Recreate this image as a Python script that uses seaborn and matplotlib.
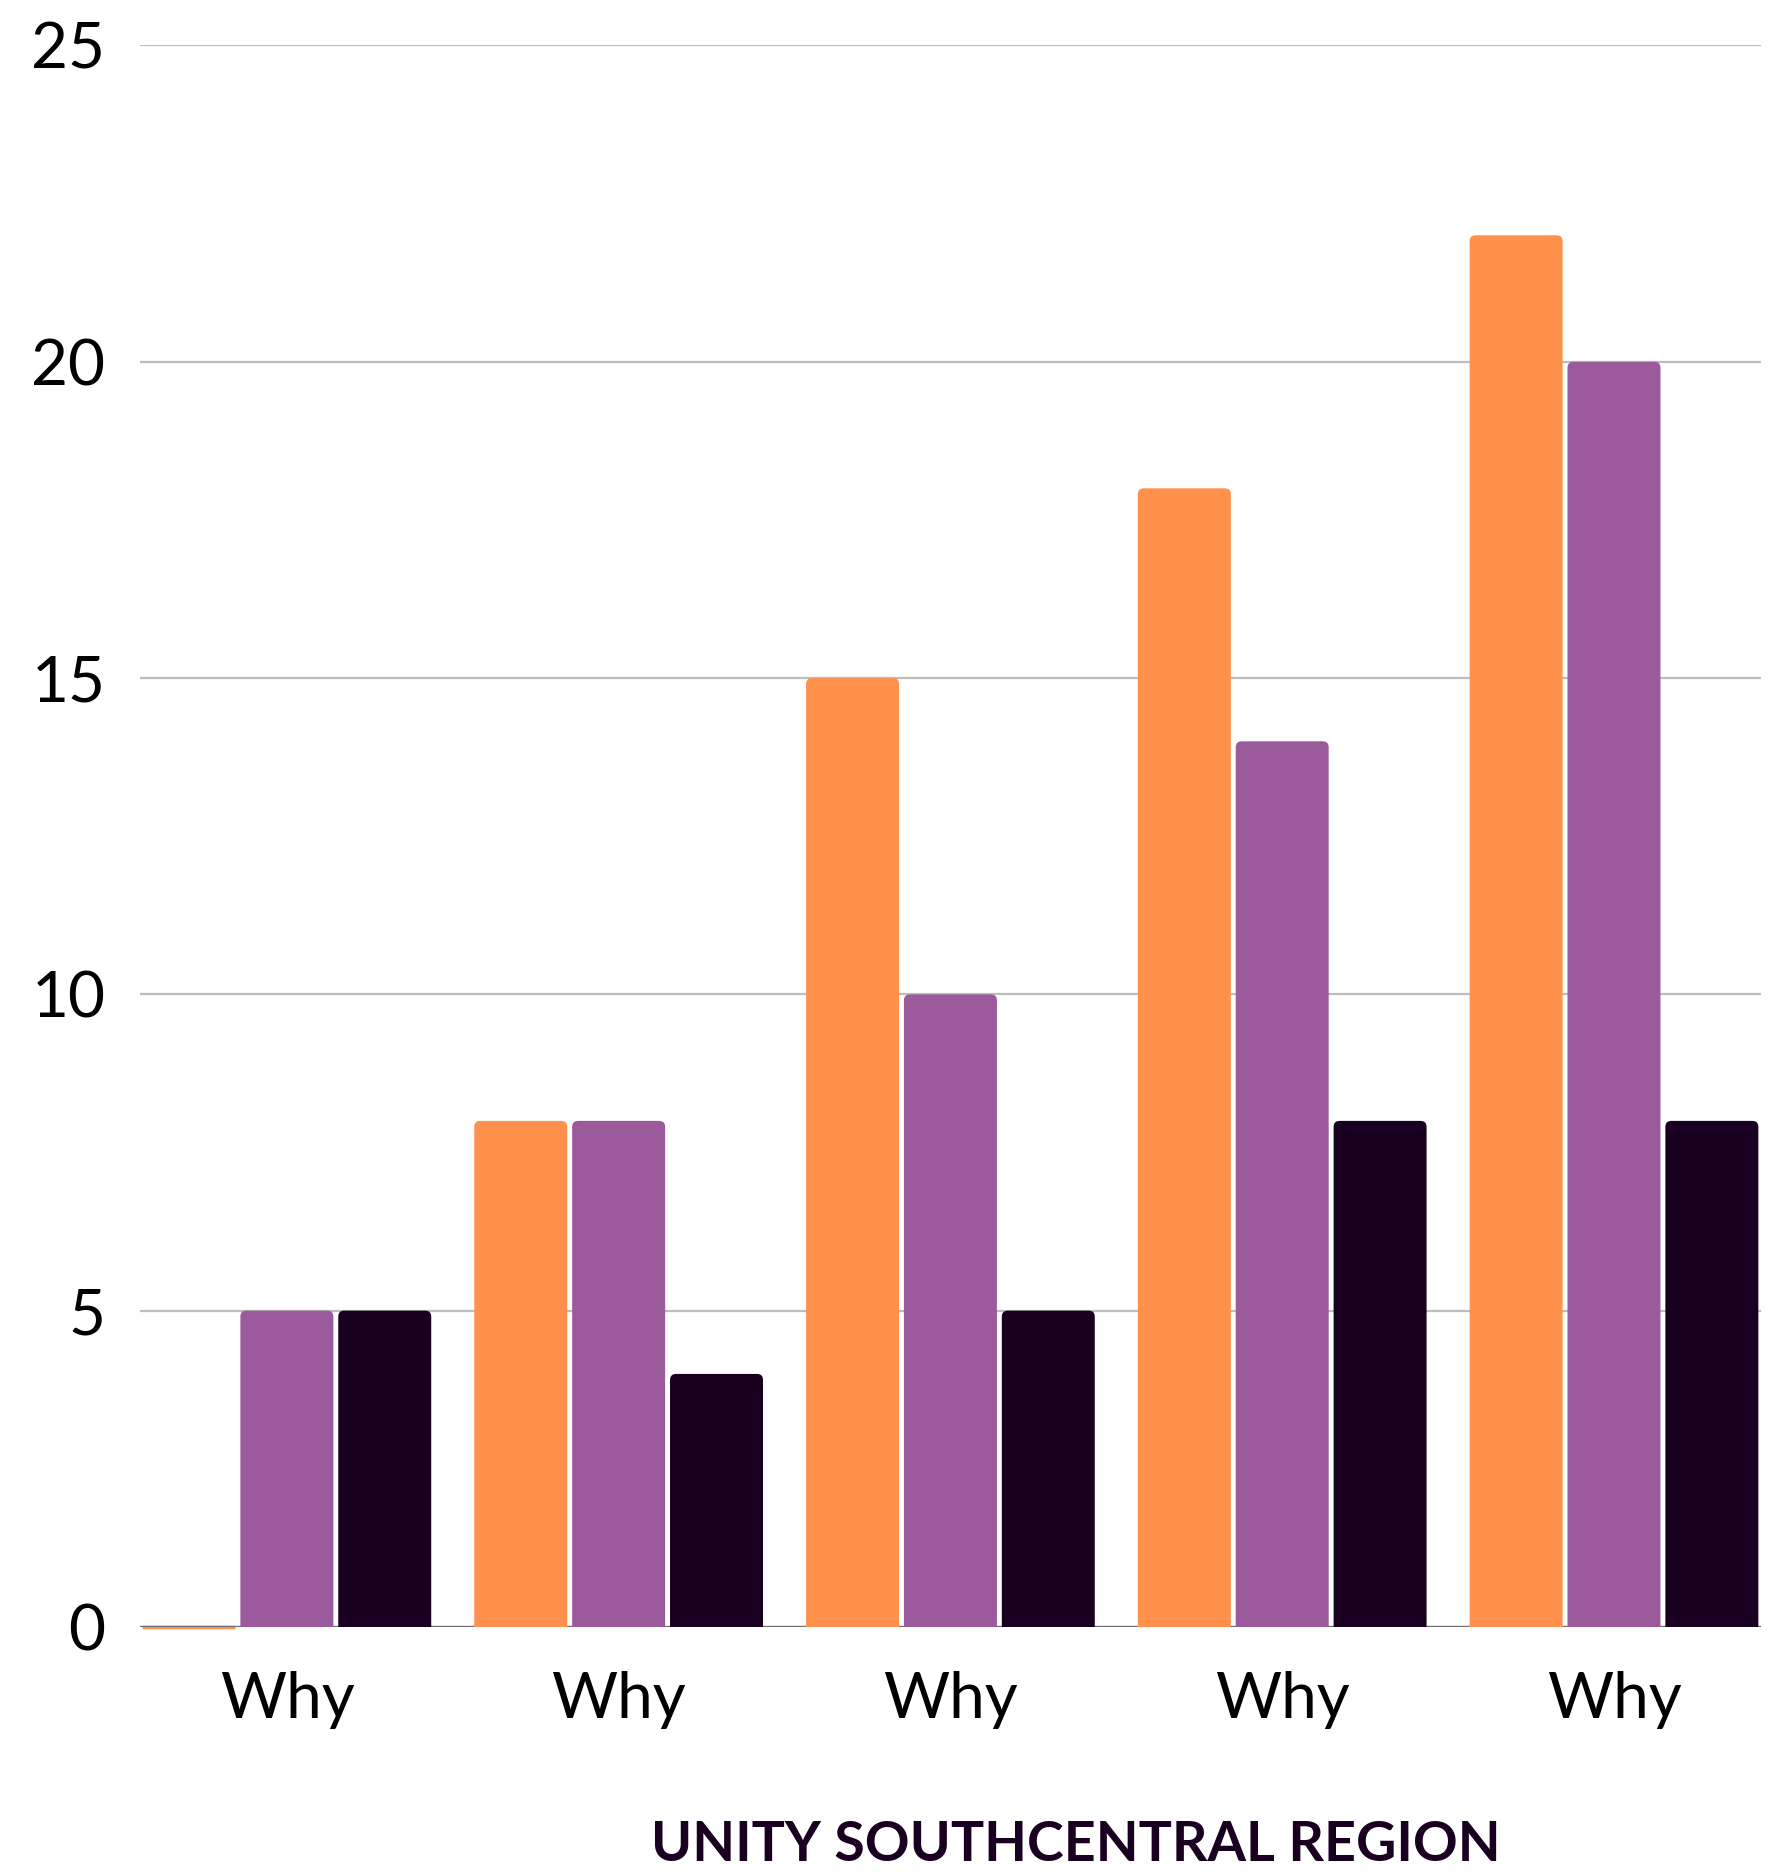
import pandas as pd
import matplotlib
matplotlib.use('Agg')
import matplotlib.pyplot as plt
import seaborn as sns
from matplotlib.patches import FancyBboxPatch

# data
groups = [0, 1, 2, 3, 4]
group_labels = ['Why', 'Why', 'Why', 'Why', 'Why']
series_names = ['A', 'B', 'C']
series_a = [0, 8, 15, 18, 22]
series_b = [5, 8, 10, 14, 20]
series_c = [5, 4, 5, 8, 8]
y_ticks = [0, 5, 10, 15, 20, 25]
title = 'UNITY SOUTHCENTRAL REGION'

palette = ['#FF914D', '#9B5A9B', '#1A0020']

rows = []
for name, vals in zip(series_names, [series_a, series_b, series_c]):
    for g, v in zip(groups, vals):
        rows.append({'group': g, 'series': name, 'value': v})
df = pd.DataFrame(rows)

sns.set_theme(style='white')
plt.rcParams['font.family'] = ['Lato', 'DejaVu Sans']

fig = plt.figure(figsize=(17.75, 18.72), dpi=100)
ax = fig.add_axes([0.0789, 0.1309, 0.9131, 0.8448])

sns.barplot(data=df, x='group', y='value', hue='series', order=groups,
            hue_order=series_names, palette=palette, width=0.885, gap=0.05,
            linewidth=0, saturation=1, legend=False, ax=ax)

ax.set_xlim(-0.4425, 4.4425)
ax.set_ylim(0, 25)
ax.set_yticks(y_ticks)
ax.set_yticklabels([str(t) for t in y_ticks])
ax.set_xticks(groups)
ax.set_xticklabels(group_labels)
ax.set_xlabel('')
ax.set_ylabel('')

# rounded tops: redraw each bar as a rounded box that starts below the axis
x_px = 0.9131 * 1775 / (ax.get_xlim()[1] - ax.get_xlim()[0])
y_px = 0.8448 * 1872 / 25
aspect = x_px / y_px
for p in list(ax.patches):
    x, w, h = p.get_x(), p.get_width(), p.get_height()
    if h <= 0:
        p.set_edgecolor(p.get_facecolor())
        p.set_linewidth(2.5)
        p.set_clip_on(False)
        continue
    fb = FancyBboxPatch((x, -1), w, h + 1,
                        boxstyle='round,pad=0,rounding_size=0.018',
                        mutation_aspect=aspect, facecolor=p.get_facecolor(),
                        edgecolor='none', zorder=2)
    ax.add_patch(fb)
    p.remove()

ax.grid(axis='y', color='#BDBDBD', linewidth=1.6, zorder=0)
ax.set_axisbelow(True)
ax.axhline(0, color='#6E6E6E', linewidth=1.6, zorder=1)

for s in ax.spines.values():
    s.set_visible(False)
ax.tick_params(axis='y', length=0, pad=25, labelsize=46, labelcolor='black')
ax.tick_params(axis='x', length=0, pad=32, labelsize=46, labelcolor='black')

fig.text(0.606, 0.001, title, ha='center', va='bottom', fontsize=40,
         fontweight='bold', color='#1A0020')

fig.savefig('out.png', dpi=100)
